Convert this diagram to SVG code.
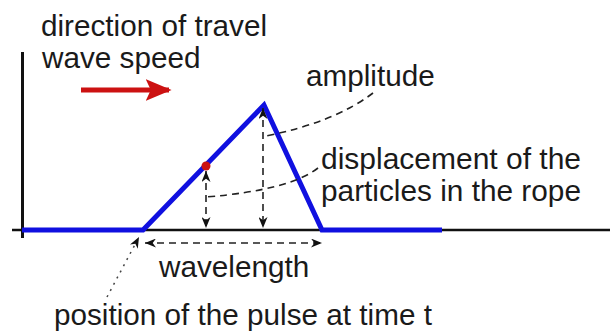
<svg xmlns="http://www.w3.org/2000/svg" width="610" height="331" viewBox="0 0 610 331">
<style>
text{font-family:"Liberation Sans",Arial,sans-serif;font-size:29.7px;fill:#1a1a1a}
.tight{font-size:28.6px}
.dash{fill:none;stroke:#222;stroke-width:1.6;stroke-dasharray:7,5}
.dot{fill:none;stroke:#444;stroke-width:1.5;stroke-dasharray:2,5}
</style>
<defs>
<marker id="ah" viewBox="0 0 10 10" refX="10" refY="5" markerWidth="11" markerHeight="9" markerUnits="userSpaceOnUse" orient="auto-start-reverse" preserveAspectRatio="none">
<path d="M0,0 L10,5 L0,10 L3,5 Z" fill="#111"/>
</marker>
<marker id="red" viewBox="0 0 10 10" refX="9" refY="5" markerWidth="26" markerHeight="22" markerUnits="userSpaceOnUse" orient="auto" preserveAspectRatio="none">
<path d="M0,0 L10,5 L0,10 L2,5 Z" fill="#cc1111"/>
</marker>
</defs>
<g id="axes">
<line x1="22.5" y1="52" x2="22.5" y2="238" stroke="#111" stroke-width="3"/>
<line x1="12" y1="230" x2="610" y2="230" stroke="#111" stroke-width="2.5"/>
</g>
<g id="pulse">
<polyline points="22,230 143,230 264,105 322,230 442,230" fill="none" stroke="#1010e0" stroke-width="5" stroke-linejoin="miter"/>
<circle cx="206" cy="166" r="4.5" fill="#cc1111"/>
</g>
<g id="connectors">
<line x1="206" y1="171" x2="206" y2="228" class="dash" marker-start="url(#ah)" marker-end="url(#ah)"/>
<line x1="263" y1="108" x2="263" y2="228" class="dash" marker-start="url(#ah)" marker-end="url(#ah)"/>
<line x1="145" y1="243" x2="322" y2="243" class="dash" marker-start="url(#ah)" marker-end="url(#ah)"/>
<path d="M373,93 Q335,122 266,136" class="dash"/>
<path d="M318,168 Q290,190 206,197" class="dash"/>
<line x1="107" y1="297" x2="139" y2="237" class="dot" marker-end="url(#ah)"/>
<line x1="81" y1="90" x2="169" y2="90" stroke="#cc1111" stroke-width="5" marker-end="url(#red)"/>
</g>
<g id="labels">
<text x="41" y="36">direction of travel</text>
<text x="42" y="68">wave speed</text>
<text x="306" y="86">amplitude</text>
<text class="tight" x="321" y="168.5" textLength="260" lengthAdjust="spacingAndGlyphs">displacement of the</text>
<text class="tight" x="321" y="200.5" textLength="260" lengthAdjust="spacingAndGlyphs">particles in the rope</text>
<text x="159" y="277">wavelength</text>
<text x="54" y="324.5">position of the pulse at time t</text>
</g>
</svg>
